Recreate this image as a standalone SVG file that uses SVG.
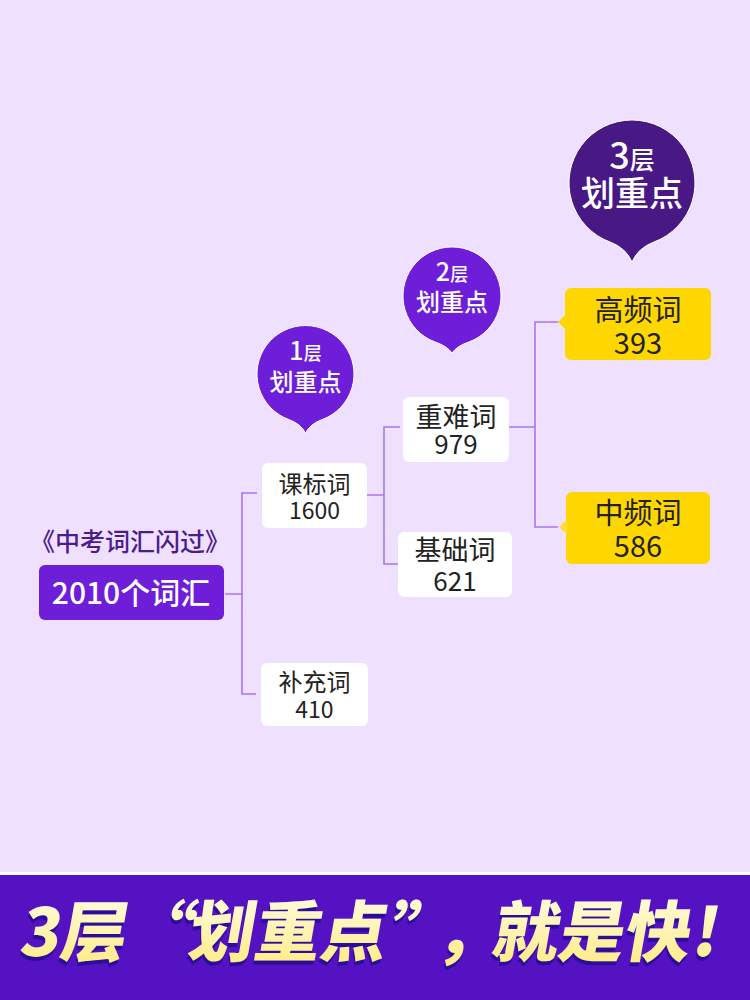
<svg xmlns="http://www.w3.org/2000/svg" width="750" height="1000" viewBox="0 0 750 1000">
<defs>
<linearGradient id="gy" x1="0" y1="0" x2="0" y2="1">
<stop offset="0" stop-color="#FFFFF2"/>
<stop offset="1" stop-color="#FFE97A"/>
</linearGradient>
<style>
text{font-family:"Noto Sans CJK SC","Noto Sans",sans-serif;text-anchor:middle}
.nt{fill:#222222}
.bt{fill:#ffffff;font-weight:500}
.wbox{fill:#ffffff}
.ybox{fill:#FFD700}
.conn{fill:none;stroke:#A877EE;stroke-width:1.6}
.ban{font-size:66px;font-weight:900;text-anchor:start}
</style>
</defs>
<rect width="750" height="1000" fill="#EFE0FF"/>

<g id="connectors">
<path class="conn" d="M225,594 H242 M257,493 H242 V694 H256"/>
<path class="conn" d="M367,495 H384 M400,427 H384 V564 H399"/>
<path class="conn" d="M509,427 H535 M558,322 H535 V527 H558"/>
</g>

<g id="root">
<text x="130" y="551" font-size="25" fill="#4B1C8C" font-weight="500">《中考词汇闪过》</text>
<rect x="39" y="565" width="185" height="55" rx="6" fill="#6E1ED8"/>
<text x="131" y="604" font-size="30" fill="#ffffff" font-weight="500">2010个词汇</text>
</g>

<g id="bubble1">
<path d="M288.9,419.6 A48.5,48.5 0 1 1 322.1,419.6 Q310,424 305.5,433 Q301,424 288.9,419.6 Z" fill="#6E1ED8" stroke="#ffffff" stroke-width="1"/>
<text class="bt" x="305.5" y="360"><tspan font-size="25">1</tspan><tspan font-size="18">层</tspan></text>
<text class="bt" x="305.5" y="391" font-size="24">划重点</text>
</g>

<g id="bubble2">
<path d="M435.2,342 A49,49 0 1 1 468.8,342 Q457,346 452,353 Q447,346 435.2,342 Z" fill="#6E1ED8" stroke="#ffffff" stroke-width="1"/>
<text class="bt" x="452" y="281"><tspan font-size="25">2</tspan><tspan font-size="18">层</tspan></text>
<text class="bt" x="452" y="311" font-size="24">划重点</text>
</g>

<g id="bubble3">
<path d="M610.5,242.2 A63,63 0 1 1 653.5,242.2 Q638,248 632,262 Q626,248 610.5,242.2 Z" fill="#481985" stroke="#ffffff" stroke-width="1"/>
<text class="bt" x="632" y="169"><tspan font-size="36">3</tspan><tspan font-size="25">层</tspan></text>
<text class="bt" x="632" y="206" font-size="34">划重点</text>
</g>

<g id="kebiao">
<rect class="wbox" x="262" y="463" width="105" height="65" rx="6"/>
<text class="nt" x="314.5" y="493" font-size="24">课标词</text>
<text class="nt" x="314.5" y="519" font-size="23">1600</text>
</g>

<g id="buchong">
<rect class="wbox" x="261" y="663" width="107" height="63" rx="6"/>
<text class="nt" x="314.5" y="691" font-size="24">补充词</text>
<text class="nt" x="314.5" y="718" font-size="23">410</text>
</g>

<g id="zhongnan">
<rect class="wbox" x="403" y="397" width="106" height="65" rx="6"/>
<text class="nt" x="456" y="427" font-size="27">重难词</text>
<text class="nt" x="456" y="454" font-size="26">979</text>
</g>

<g id="jichu">
<rect class="wbox" x="398" y="532" width="114" height="65" rx="6"/>
<text class="nt" x="455" y="560" font-size="27">基础词</text>
<text class="nt" x="455" y="591" font-size="26">621</text>
</g>

<g id="gaopin">
<rect class="ybox" x="565" y="288" width="146" height="72" rx="6"/>
<path class="ybox" d="M566,314 L558,322 L566,330 Z"/>
<text class="nt" x="638" y="321" font-size="29">高频词</text>
<text class="nt" x="638" y="354" font-size="29">393</text>
</g>

<g id="zhongpin">
<rect class="ybox" x="566" y="492" width="144" height="72" rx="6"/>
<path d="M567,519 L559,527 L567,535 Z" fill="#FFDC3A"/>
<text class="nt" x="638" y="524" font-size="29">中频词</text>
<text class="nt" x="638" y="557" font-size="29">586</text>
</g>

<g id="banner">
<rect x="0" y="872" width="750" height="3" fill="#ffffff"/>
<rect x="0" y="875" width="750" height="125" fill="#5512C2"/>
<g transform="translate(-1,960) skewX(-10)" fill="#2A0E9A">
<text class="ban" y="0"><tspan x="18">3层</tspan><tspan x="125">“</tspan><tspan x="186">划重点</tspan><tspan x="386">”</tspan><tspan x="434">，</tspan><tspan x="490">就是快</tspan><tspan x="690">!</tspan></text>
</g>
<g transform="translate(0,956) skewX(-10)" fill="url(#gy)">
<text class="ban" y="0"><tspan x="18">3层</tspan><tspan x="125">“</tspan><tspan x="186">划重点</tspan><tspan x="386">”</tspan><tspan x="434">，</tspan><tspan x="490">就是快</tspan><tspan x="690">!</tspan></text>
</g>
</g>
</svg>
